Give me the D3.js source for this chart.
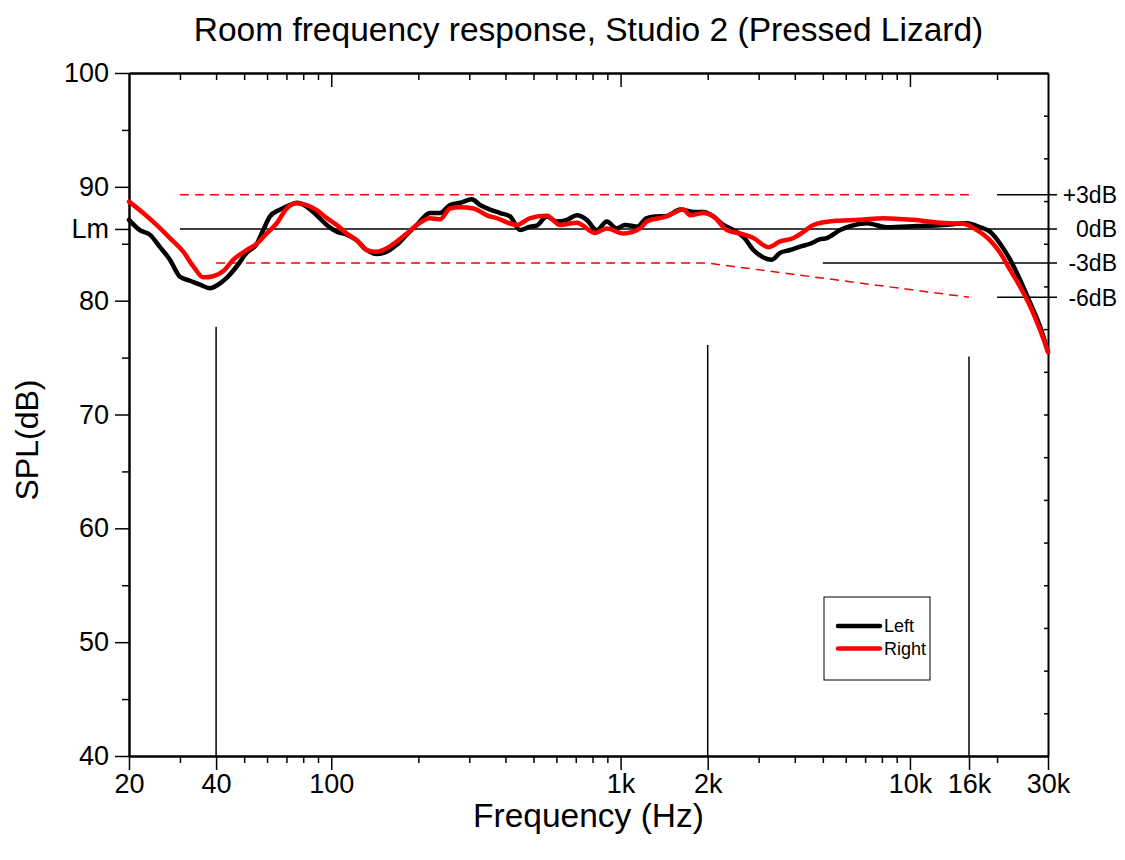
<!DOCTYPE html>
<html>
<head>
<meta charset="utf-8">
<script src="https://cdn.jsdelivr.net/npm/d3@7"></script>
<style>
  body { margin: 0; background: #fff; }
  svg { font-family: "Liberation Sans", Arial, sans-serif; }
  .axis path, .axis line { stroke: #000; }
  .axis text { fill: #000; }
</style>
</head>
<body>
<div id="chart"></div>
<script>
// measured response, left channel: [frequency Hz, SPL dB]
var leftFreq = [20, 21.8, 23.6, 25.6, 27.7, 30, 32.5, 35.2, 38.1, 40.6, 43.5, 47.1, 51, 55.3, 58.2, 61.4, 66.5, 72, 76, 82.3,
    89.1, 96.5, 104.5, 113.1, 122.5, 132.6, 143.6, 155.5, 168.4, 182.4, 197.5, 219.5, 237.7, 257.4, 278.7, 306, 327, 354, 383, 415,
    449, 487, 513, 556, 602, 652, 706, 764, 827, 896, 970, 1037, 1138, 1232, 1334, 1444, 1606, 1785, 1933, 2093,
    2267, 2454, 2657, 2878, 3116, 3332, 3558, 3853, 4173, 4518, 4893, 5160, 5737, 6214, 7096, 8320, 10564, 13054, 15730, 17490,
    18930, 20498, 22198, 24044, 26032, 28186, 30000];
var leftDb = [87.1, 86.2, 85.8, 84.7, 83.6, 82.1, 81.75, 81.4, 81.1, 81.4, 82.0, 83.0, 84.2, 85.0, 86.2, 87.4, 88.0, 88.4, 88.6, 88.25,
    87.5, 86.65, 86.05, 85.8, 85.3, 84.45, 84.1, 84.3, 84.9, 85.8, 86.65, 87.7, 87.7, 88.4, 88.6, 88.9, 88.4, 88.0, 87.7, 87.4,
    86.2, 86.5, 86.6, 87.4, 86.95, 87.1, 87.5, 87.1, 86.2, 86.95, 86.35, 86.65, 86.5, 87.25, 87.4, 87.45, 88.0, 87.8, 87.8, 87.4,
    86.65, 86.2, 85.6, 84.45, 83.8, 83.6, 84.2, 84.45, 84.75, 85.0, 85.4, 85.5, 86.2, 86.55, 86.8, 86.45, 86.55, 86.65, 86.8, 86.45,
    86.05, 85.0, 83.6, 81.8, 79.8, 77.7, 75.5];

// right channel
var rightFreq = [20, 22.4, 24.9, 27.7, 30.8, 33.4, 36.1, 39.1, 42.4, 45.9, 51, 55.3, 59.8, 64.8, 70.2, 76, 82.3, 89.1, 96.5, 104.5,
    113.1, 122.5, 132.6, 143.6, 155.5, 168.4, 182.4, 197.5, 219.5, 237.7, 257.4, 278.7, 310, 345, 373, 438, 487, 556, 618, 706,
    816, 896, 1023, 1168, 1232, 1444, 1648, 1739, 1933, 2093, 2329, 2588, 2878, 3243, 3558, 3957, 4284, 4638, 5438, 6729,
    8098, 10280, 12716, 15312, 17036, 18930, 20498, 22198, 24044, 26032, 28186, 30000];
var rightDb = [88.7, 87.7, 86.65, 85.5, 84.3, 83.0, 82.05, 82.15, 82.6, 83.6, 84.45, 85.0, 85.9, 86.8, 88.1, 88.55, 88.4, 87.95, 87.25, 86.65,
    85.9, 85.3, 84.45, 84.3, 84.6, 85.2, 85.9, 86.65, 87.25, 87.15, 88.1, 88.2, 88.1, 87.5, 87.25, 86.65, 87.25, 87.45, 86.65, 86.85,
    85.95, 86.35, 85.9, 86.35, 86.95, 87.4, 88.0, 87.5, 87.7, 87.4, 86.2, 85.9, 85.5, 84.7, 85.2, 85.5, 86.05, 86.65, 87.0, 87.1,
    87.25, 87.1, 86.85, 86.75, 86.2, 85.3, 84.2, 82.7, 81.2, 79.5, 77.4, 75.5];

// reference level and tolerance band
var lm = 86.3;
var bandLevels = [3, 0, -3, -6];
var bandLabels = ["+3dB", "0dB", "-3dB", "-6dB"];
var bandLineStart = [20000, 30, 5000, 20000];
var upperFreq = [30, 16000];
var upperDb = [3, 3];
var lowerFreq = [40, 2000, 16000];
var lowerDb = [-3, -3, -6];

// vertical marker lines: frequency and top level
var markerFreq = [40, 2000, 16000];
var markerTop = [77.7, 76.1, 75.1];

// ticks
var xMajor = [20, 40, 100, 1000, 2000, 10000, 16000, 30000];
var xMajorLabels = ["20", "40", "100", "1k", "2k", "10k", "16k", "30k"];
var xMinor = [30, 50, 60, 70, 80, 90, 200, 300, 400, 500, 600, 700, 800, 900,
    3000, 4000, 5000, 6000, 7000, 8000, 9000, 20000];
var topMajor = [100, 1000, 10000];
var topMinor = [30, 40, 50, 60, 70, 80, 90, 200, 300, 400, 500, 600, 700, 800, 900,
    2000, 3000, 4000, 5000, 6000, 7000, 8000, 9000, 20000];
var yMajor = [40, 50, 60, 70, 80, 90, 100];
var yMinor = [45, 55, 65, 75, 85, 95];
var rightTicks = d3.range(43.75, 100, 3.75);

var seriesNames = ["Left", "Right"];
var seriesColors = ["#000000", "#ff0000"];

var W = 1125, H = 860;
var margin = { top: 73, right: 77, bottom: 104, left: 129 },
    width = W - margin.left - margin.right,
    height = H - margin.top - margin.bottom;

var svg = d3.select("#chart").append("svg")
    .attr("width", W)
    .attr("height", H);

var g = svg.append("g")
    .attr("transform", "translate(" + margin.left + "," + margin.top + ")");

var x = d3.scaleLog().domain([20, 30000]).range([0, width]);
var y = d3.scaleLinear().domain([40, 100]).range([height, 0]);

// axes
function styleAxis(sel, fs) {
    sel.attr("class", "axis");
    sel.select(".domain").attr("stroke-width", 2);
    sel.selectAll(".tick line").attr("stroke-width", 1.5);
    sel.selectAll("text").style("font-size", fs + "px").style("font-family", "Liberation Sans, Arial, sans-serif");
}

g.append("g").attr("transform", "translate(0," + height + ")")
    .call(d3.axisBottom(x).tickValues(xMinor).tickFormat("").tickSize(7).tickSizeOuter(0))
    .call(styleAxis, 27);
g.append("g").attr("transform", "translate(0," + height + ")")
    .call(d3.axisBottom(x).tickValues(xMajor).tickFormat(function (d, i) { return xMajorLabels[i]; })
        .tickSize(14).tickPadding(4).tickSizeOuter(0))
    .call(styleAxis, 27);

g.append("g")
    .call(d3.axisLeft(y).tickValues(yMinor).tickFormat("").tickSize(7).tickSizeOuter(0))
    .call(styleAxis, 27);
g.append("g")
    .call(d3.axisLeft(y).tickValues(yMajor.concat([lm]))
        .tickFormat(function (d) { return d === lm ? "Lm" : d; })
        .tickSize(14).tickPadding(6).tickSizeOuter(0))
    .call(styleAxis, 27);

g.append("g")
    .call(d3.axisTop(x).tickValues(topMinor).tickFormat("").tickSize(-7).tickSizeOuter(0))
    .call(styleAxis, 27);
g.append("g")
    .call(d3.axisTop(x).tickValues(topMajor).tickFormat("").tickSize(-14).tickSizeOuter(0))
    .call(styleAxis, 27);

g.append("g").attr("transform", "translate(" + width + ",0)")
    .call(d3.axisRight(y).tickValues(rightTicks).tickFormat("").tickSize(-4).tickSizeOuter(0))
    .call(styleAxis, 27);

// vertical markers
g.selectAll(".marker")
    .data(markerFreq)
    .enter().append("line")
    .attr("class", "marker")
    .attr("x1", function (d) { return x(d); })
    .attr("x2", function (d) { return x(d); })
    .attr("y1", height)
    .attr("y2", function (d, i) { return y(markerTop[i]); })
    .attr("stroke", "#000")
    .attr("stroke-width", 1.5);

// tolerance band (dashed red)
var bandLine = d3.line()
    .x(function (d) { return x(d[0]); })
    .y(function (d) { return y(lm + d[1]); });

g.append("path")
    .datum(d3.zip(upperFreq, upperDb))
    .attr("d", bandLine)
    .attr("fill", "none")
    .attr("stroke", "#ff0000")
    .attr("stroke-width", 1.5)
    .attr("stroke-dasharray", "9,6");

g.append("path")
    .datum(d3.zip(lowerFreq, lowerDb))
    .attr("d", bandLine)
    .attr("fill", "none")
    .attr("stroke", "#ff0000")
    .attr("stroke-width", 1.5)
    .attr("stroke-dasharray", "9,6");

// level lines on the right with labels
var labelEnd = width + 9;
g.selectAll(".level")
    .data(bandLevels)
    .enter().append("line")
    .attr("class", "level")
    .attr("x1", function (d, i) { return x(bandLineStart[i]); })
    .attr("x2", labelEnd)
    .attr("y1", function (d) { return y(lm + d); })
    .attr("y2", function (d) { return y(lm + d); })
    .attr("stroke", "#000")
    .attr("stroke-width", 1.5);

g.selectAll(".level-label")
    .data(bandLevels)
    .enter().append("text")
    .attr("class", "level-label")
    .attr("x", width + 69)
    .attr("y", function (d) { return y(lm + d); })
    .attr("dy", "0.36em")
    .attr("text-anchor", "end")
    .style("font-size", "23px")
    .text(function (d, i) { return bandLabels[i]; });

// response curves
var line = d3.line()
    .curve(d3.curveMonotoneX)
    .x(function (d) { return x(d[0]); })
    .y(function (d) { return y(d[1]); });

var series = [d3.zip(leftFreq, leftDb), d3.zip(rightFreq, rightDb)];

g.selectAll(".curve")
    .data(series)
    .enter().append("path")
    .attr("class", "curve")
    .attr("d", line)
    .attr("fill", "none")
    .attr("stroke", function (d, i) { return seriesColors[i]; })
    .attr("stroke-width", 4.5)
    .attr("stroke-linejoin", "round")
    .attr("stroke-linecap", "round");

// legend
var legend = svg.append("g").attr("transform", "translate(824,597)");
legend.append("rect")
    .attr("width", 106)
    .attr("height", 83)
    .attr("fill", "#fff")
    .attr("stroke", "#000")
    .attr("stroke-width", 1);

var item = legend.selectAll(".item")
    .data(seriesNames)
    .enter().append("g")
    .attr("class", "item")
    .attr("transform", function (d, i) { return "translate(0," + (29 + i * 22.5) + ")"; });

item.append("line")
    .attr("x1", 14).attr("x2", 56)
    .attr("stroke", function (d, i) { return seriesColors[i]; })
    .attr("stroke-width", 4.5)
    .attr("stroke-linecap", "round");

item.append("text")
    .attr("x", 60)
    .attr("dy", "0.36em")
    .style("font-size", "18px")
    .text(function (d) { return d; });

// titles
svg.append("text")
    .attr("x", margin.left + width / 2)
    .attr("y", 41)
    .attr("text-anchor", "middle")
    .style("font-size", "33.5px")
    .text("Room frequency response, Studio 2 (Pressed Lizard)");

svg.append("text")
    .attr("x", margin.left + width / 2)
    .attr("y", 827)
    .attr("text-anchor", "middle")
    .style("font-size", "33.5px")
    .text("Frequency (Hz)");

svg.append("text")
    .attr("transform", "translate(38,440) rotate(-90)")
    .attr("text-anchor", "middle")
    .style("font-size", "32px")
    .text("SPL(dB)");
</script>
</body>
</html>
